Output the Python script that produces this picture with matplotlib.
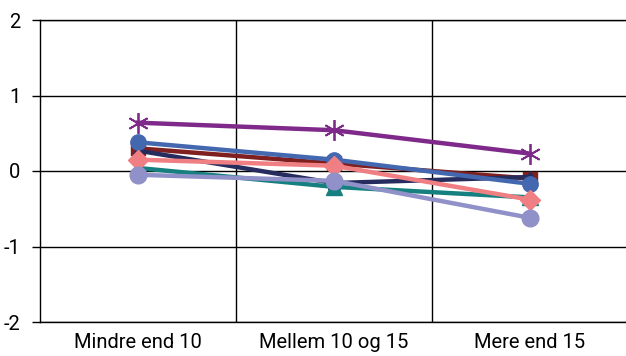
import numpy as np
import matplotlib.pyplot as plt

categories = ["Mindre end 10", "Mellem 10 og 15", "Mere end 15"]

dark_red = [0.30, 0.10, -0.10]
navy = [0.27, -0.16, -0.08]
teal = [0.04, -0.21, -0.35]
blue = [0.38, 0.15, -0.17]
pink = [0.15, 0.07, -0.38]
lavender = [-0.05, -0.13, -0.62]
purple = [0.64, 0.54, 0.23]

plt.rcParams['font.family'] = ['Roboto', 'DejaVu Sans']
plt.rcParams['axes.unicode_minus'] = False

fig = plt.figure(figsize=(6.26, 3.56), dpi=100)
ax = fig.add_axes([40 / 626, 1 - 322 / 356, 588 / 626, (322 - 20) / 356])

x = np.arange(len(categories))
lw = 3.2
ax.plot(x, dark_red, color='#7F1F1F', lw=lw, marker='s', ms=10, zorder=3)
ax.plot(x, navy, color='#262C5E', lw=lw, marker='^', ms=9, zorder=3)
ax.plot(x, teal, color='#15807F', lw=lw, marker='^', ms=11, zorder=3)
ax.plot(x, blue, color='#4468B0', lw=lw, marker='o', ms=11, zorder=3)
ax.plot(x, pink, color='#EF7F82', lw=lw, marker='D', ms=10, zorder=3)
ax.plot(x, lavender, color='#9191C9', lw=lw, marker='o', ms=12, zorder=3)
ax.plot(x, purple, color='#7F2A8A', lw=lw, marker=(6, 2, 0), ms=15, mew=1.3, zorder=3)

ax.set_xlim(-0.5, 2.5)
ax.set_ylim(-2, 2)
ax.set_yticks([-2, -1, 0, 1, 2])
ax.set_xticks(x)
ax.set_xticklabels(categories)
ax.set_xticks([0.5, 1.5], minor=True)
ax.grid(True, axis='y', color='black', lw=1)
ax.grid(True, axis='x', which='minor', color='black', lw=1)
ax.tick_params(axis='x', which='both', length=0, labelsize=14.5, pad=8)
ax.tick_params(axis='y', length=6, width=1, labelsize=14.5, pad=8)
ax.spines['right'].set_visible(False)
for s in ['left', 'bottom', 'top']:
    ax.spines[s].set_linewidth(1)

fig.savefig('out.png', dpi=100)
